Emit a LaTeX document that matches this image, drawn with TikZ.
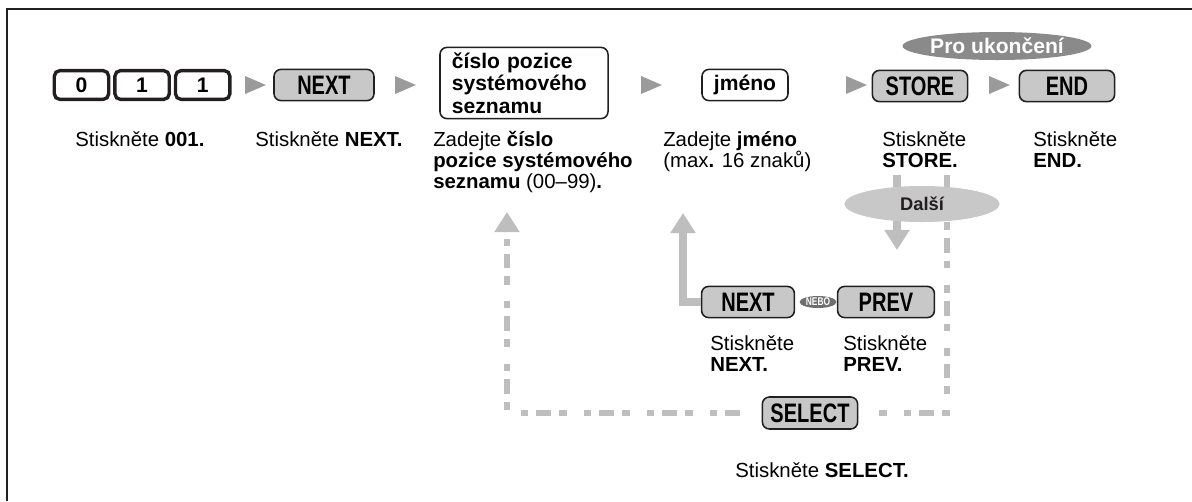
\documentclass[tikz,border=0pt]{standalone}
\usepackage{fontspec}
\setmainfont{Liberation Sans}
\newfontfamily\narrowfont[FakeStretch=0.75]{Liberation Sans}
\definecolor{ink}{RGB}{35, 31, 32}
\definecolor{btngray}{RGB}{200, 200, 200}
\definecolor{markgray}{RGB}{155, 155, 155}
\definecolor{darkoval}{RGB}{138, 138, 138}
\definecolor{nebogray}{RGB}{110, 110, 110}
\definecolor{lightline}{RGB}{190, 190, 190}
\usetikzlibrary{arrows.meta, positioning, shapes.geometric}
\tikzset{
	numkey/.style={rectangle, rounded corners=4pt, draw=ink, line width=2.4pt, fill=white, minimum width=1.36cm, minimum height=0.72cm, inner sep=0pt, font=\fontsize{15}{15}\selectfont\bfseries},
	btn/.style={rectangle, rounded corners=5pt, draw=ink, line width=1.1pt, fill=btngray, minimum height=0.78cm, inner sep=0pt, font=\narrowfont\fontsize{19}{19}\selectfont\bfseries},
	entry/.style={rectangle, rounded corners=5pt, draw=ink, line width=1.1pt, fill=white, inner sep=0pt, font=\fontsize{15}{16}\selectfont\bfseries},
	stepmark/.style={isosceles triangle, isosceles triangle stretches, fill=markgray, inner sep=0pt, minimum width=0.45cm, minimum height=0.52cm},
	tag/.style={ellipse, inner sep=0pt, font=\fontsize{15}{15}\selectfont\bfseries},
	caption/.style={anchor=north west, align=left, inner sep=0pt, font=\fontsize{14.5}{15}\selectfont},
	flowline/.style={draw=lightline, line width=5.5pt},
	loopline/.style={draw=lightline, line width=4.3pt, dash pattern=on 10.6pt off 5.7pt on 5pt off 12pt on 5.7pt off 5.7pt},
	bigtip/.style={-{Triangle[width=0.6cm, length=0.5cm]}},
}

\begin{document}
\begin{tikzpicture}[x=0.025cm, y=-0.025cm]
	\useasboundingbox (0,0) rectangle (1192,501);
	\draw[ink, line width=2.1pt] (7,501) -- (7,9) -- (1192,9);
	% top row
	\node[numkey] (k0) at (81.5,85) {0};
	\node[numkey, right=0.07cm of k0] (k1) {1};
	\node[numkey, right=0.07cm of k1] (k2) {1};
	\node[stepmark] (s1) at (251,85) {};
	\node[btn, minimum width=2.5cm] (next) at (324,85) {NEXT};
	\node[stepmark] (s2) at (401,85) {};
	\node[entry, text width=3.6cm, inner xsep=0.3cm, minimum height=1.78cm, align=left] (pos) at (524,83) {číslo pozice\\systémového\\seznamu};
	\node[stepmark] (s3) at (647,85) {};
	\node[entry, minimum width=2.15cm, minimum height=0.78cm] (name) at (745,85) {jméno};
	\node[stepmark] (s4) at (852,85) {};
	\node[btn, minimum width=2.38cm] (store) at (920,86) {STORE};
	\node[stepmark] (s5) at (995,85) {};
	\node[btn, minimum width=2.38cm] (end) at (1067,86) {END};
	\node[tag, fill=darkoval, text=white, minimum width=4.08cm, minimum height=0.7cm] (finish) at (997,46) {Pro ukončení};
	% captions
	\node[caption] (c1) at (75,131) {Stiskněte \textbf{001.}};
	\node[caption] (c2) at (255,131) {Stiskněte \textbf{NEXT.}};
	\node[caption] (c3) at (433,131) {Zadejte \textbf{číslo}\\\textbf{pozice systémového}\\\textbf{seznamu} (00–99)\textbf{.}};
	\node[caption] (c4) at (663,131) {Zadejte \textbf{jméno}\\(max\textbf{.} 16 znaků)};
	\node[caption] (c5) at (882,131) {Stiskněte\\\textbf{STORE.}};
	\node[caption] (c6) at (1033,131) {Stiskněte\\\textbf{END.}};
	% loop back
	\coordinate (dnTop) at (897,175);
	\coordinate (dnTip) at (897,250);
	\coordinate (loopTop) at (947,175);
	\coordinate (loopTip) at (507,212);
	\coordinate (upTip) at (683,213);
	\node[btn, minimum width=2.32cm] (nextb) at (748,302) {NEXT};
	\node[btn, minimum width=2.42cm] (prev) at (886,302) {PREV};
	\node[tag, fill=nebogray, text=white, minimum width=0.92cm, minimum height=0.3cm, font=\narrowfont\fontsize{8}{8}\selectfont\bfseries] (or) at (818,302) {NEBO};
	\node[btn, minimum width=2.38cm, minimum height=0.8cm] (select) at (810,413) {SELECT};
	\draw[flowline, bigtip] (dnTop) -- (dnTip);
	\draw[flowline, bigtip] (nextb.west) -| (upTip);
	\draw[loopline, shorten >=0.33cm] (loopTop) |- (select);
	\draw[loopline, bigtip, shorten <=0.55cm] (select) -| (loopTip);
	\node[tag, fill=btngray, text=ink, minimum width=3.88cm, minimum height=0.9cm, font=\fontsize{13}{13}\selectfont\bfseries] (more) at (922,204) {Další};
	\node[caption] (c7) at (710,335) {Stiskněte\\\textbf{NEXT.}};
	\node[caption] (c8) at (843,335) {Stiskněte\\\textbf{PREV.}};
	\node[caption] (c9) at (735,462) {Stiskněte \textbf{SELECT.}};
\end{tikzpicture}
\end{document}
